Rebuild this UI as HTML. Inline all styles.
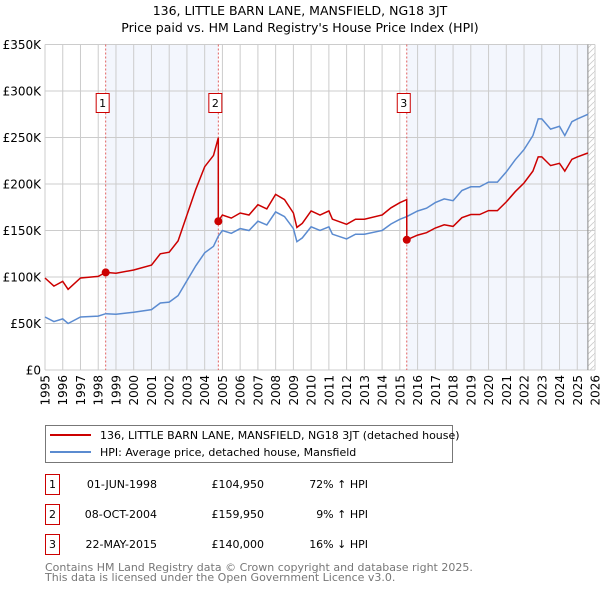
<!DOCTYPE html>
<html><head><meta charset="utf-8"><style>
body{margin:0;background:#fff;width:600px;height:590px;overflow:hidden;font-family:"DejaVu Sans","Liberation Sans",sans-serif;}
svg{position:absolute;left:0;top:0}
text{font-family:"DejaVu Sans","Liberation Sans",sans-serif;}
</style></head><body>
<svg id="c" width="600" height="590"></svg>
<script>
const hpiYears=[1995,1995.5,1996,1996.3,1997,1998,1998.42,1999,2000,2001,2001.5,2002,2002.5,2003,2003.5,2004,2004.5,2004.77,2005,2005.5,2006,2006.5,2007,2007.5,2008,2008.5,2009,2009.2,2009.5,2010,2010.5,2011,2011.2,2012,2012.5,2013,2014,2014.5,2015,2015.39,2016,2016.5,2017,2017.5,2018,2018.5,2019,2019.5,2020,2020.5,2021,2021.5,2022,2022.5,2022.8,2023,2023.5,2024,2024.3,2024.7,2025,2025.6];
const hpiValues=[57,52,55,50,57,58,60.5,60,62,65,72,73,80,96,112,126,133,144,150,147,152,150,160,156,170,165,152,138,142,154,150,154,146,141,146,146,150,157,162,165,171,174,180,184,182,193,197,197,202,202,213,226,237,252,270,270,259,262,252,267,270,275];
const saleYears=[1998.42,2004.77,2015.39];
const salePrices=[104.95,159.95,140];
const saleLabels=["1","2","3"];
const yTicks=[0,50,100,150,200,250,300,350];
const yTickLabels=["£0","£50K","£100K","£150K","£200K","£250K","£300K","£350K"];
const xTicks=[];for(let y=1995;y<=2026;y++)xTicks.push(y);

const X0=45,X1=595,Y0=370,Y1=44.5;
const xs=t=>X0+(t-1995)/(2026-1995)*(X1-X0);
const ys=v=>Y0-v/350*(Y0-Y1);
const svg=document.getElementById('c');const NS='http://www.w3.org/2000/svg';
function mk(tag,a,parent){const e=document.createElementNS(NS,tag);for(const k in a)e.setAttribute(k,a[k]);(parent||svg).appendChild(e);return e;}
function hpiAt(t){for(let i=0;i<hpiYears.length-1;i++){if(t<=hpiYears[i+1]){const f=(t-hpiYears[i])/(hpiYears[i+1]-hpiYears[i]);return hpiValues[i]+f*(hpiValues[i+1]-hpiValues[i]);}}return hpiValues[hpiValues.length-1];}

const defs=mk('defs',{});
const pat=mk('pattern',{id:'h',width:6,height:6,patternUnits:'userSpaceOnUse'},defs);
mk('path',{d:'M0,6 L6,0',stroke:'#ccc','stroke-width':0.8},pat);
let e;
e=mk('rect',{x:xs(1995),y:Y1,width:X1-X0,height:Y0-Y1,fill:'#fff'});

e=mk('rect',{x:xs(saleYears[0]),y:Y1,width:xs(saleYears[1])-xs(saleYears[0]),height:Y0-Y1,fill:'#f3f6fd'});

const lastT=hpiYears[hpiYears.length-1];
e=mk('rect',{x:xs(saleYears[2]),y:Y1,width:xs(lastT)-xs(saleYears[2]),height:Y0-Y1,fill:'#f3f6fd'});

e=mk('rect',{x:xs(lastT),y:Y1,width:X1-xs(lastT),height:Y0-Y1,fill:'url(#h)'});

xTicks.forEach(t=>{e=mk('line',{x1:xs(t),x2:xs(t),y1:Y1,y2:Y0,stroke:'#ccc','stroke-width':1});

e=mk('text',{x:0,y:0,transform:`translate(${xs(t)+4.5},${Y0+5}) rotate(-90)`,'text-anchor':'end','font-size':12,fill:'#000'});e.textContent=t;
});
yTicks.forEach((v,i)=>{e=mk('line',{x1:X0,x2:X1,y1:ys(v),y2:ys(v),stroke:'#ccc','stroke-width':1});

e=mk('text',{x:X0-4,y:ys(v)+4.5,'text-anchor':'end','font-size':12,fill:'#000'});e.textContent=yTickLabels[i];
});
e=mk('line',{x1:xs(lastT),x2:xs(lastT),y1:Y1,y2:Y0,stroke:'#888','stroke-width':1});

saleYears.forEach((t,i)=>{e=mk('line',{x1:xs(t),x2:xs(t),y1:Y1,y2:Y0,stroke:'#e06060','stroke-width':1,'stroke-dasharray':'2,2'});

const g=mk('g',{});
mk('rect',{x:xs(t)-9.5,y:93.5,width:13,height:19,fill:'#fff',stroke:'#c00','stroke-width':1},g);
const tx=mk('text',{x:xs(t)-3,y:107,'text-anchor':'middle','font-size':11,fill:'#000'},g);tx.textContent=saleLabels[i];});
let d='';hpiYears.forEach((t,i)=>{d+=(i?'L':'M')+xs(t).toFixed(1)+','+ys(hpiValues[i]).toFixed(1);});
e=mk('path',{d,fill:'none',stroke:'#5b8bd0','stroke-width':1.5});

function segFor(t){let k=0;for(let j=0;j<saleYears.length;j++)if(t>=saleYears[j])k=j;return k;}
const pts=[];
const times=hpiYears.slice();saleYears.forEach(s=>{times.push(s-0.001);times.push(s);});
times.sort((a,b)=>a-b);
times.forEach(t=>{const k=segFor(t);pts.push([t,salePrices[k]*hpiAt(t)/hpiAt(saleYears[k])]);});
d='';pts.forEach((p,i)=>{d+=(i?'L':'M')+xs(p[0]).toFixed(1)+','+ys(p[1]).toFixed(1);});
e=mk('path',{d,fill:'none',stroke:'#cc0000','stroke-width':1.5});

saleYears.forEach((t,i)=>{e=mk('circle',{cx:xs(t),cy:ys(salePrices[i]),r:4,fill:'#cc0000'});
});
e=mk('text',{x:300,y:15,'text-anchor':'middle','font-size':12.5});e.textContent='136, LITTLE BARN LANE, MANSFIELD, NG18 3JT';

e=mk('text',{x:300,y:32,'text-anchor':'middle','font-size':12.5});e.textContent="Price paid vs. HM Land Registry's House Price Index (HPI)";

const lg=mk('g',{});
mk('rect',{x:45.5,y:425.5,width:407,height:37,fill:'#fff',stroke:'#777','stroke-width':1},lg);
mk('line',{x1:50,x2:91,y1:435,y2:435,stroke:'#cc0000','stroke-width':2},lg);
mk('line',{x1:50,x2:91,y1:452,y2:452,stroke:'#5b8bd0','stroke-width':2},lg);
let t1=mk('text',{x:100,y:439,'font-size':11},lg);t1.textContent='136, LITTLE BARN LANE, MANSFIELD, NG18 3JT (detached house)';
t1=mk('text',{x:100,y:456,'font-size':11},lg);t1.textContent='HPI: Average price, detached house, Mansfield';
const rows=[["1","01-JUN-1998","£104,950","72% ↑ HPI"],["2","08-OCT-2004","£159,950","9% ↑ HPI"],["3","22-MAY-2015","£140,000","16% ↓ HPI"]];
rows.forEach((r,i)=>{const y=487+i*30;const g=mk('g',{});
mk('rect',{x:45.5,y:y-12.5,width:14,height:20,fill:'#fff',stroke:'#c00','stroke-width':1},g);
let t=mk('text',{x:52.5,y:y+1,'text-anchor':'middle','font-size':11},g);t.textContent=r[0];
t=mk('text',{x:157,y:y+1,'text-anchor':'end','font-size':11},g);t.textContent=r[1];
t=mk('text',{x:264,y:y+1,'text-anchor':'end','font-size':11},g);t.textContent=r[2];
t=mk('text',{x:368,y:y+1,'text-anchor':'end','font-size':11},g);t.textContent=r[3];});
e=mk('text',{x:45,y:571,'font-size':11,fill:'#777'});e.textContent='Contains HM Land Registry data © Crown copyright and database right 2025.';

e=mk('text',{x:45,y:581,'font-size':11,fill:'#777'});e.textContent='This data is licensed under the Open Government Licence v3.0.';

</script>
</body></html>
